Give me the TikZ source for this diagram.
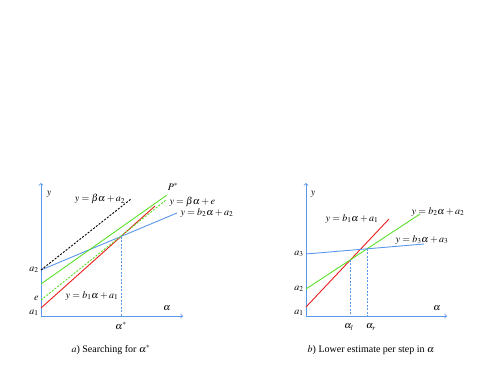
\documentclass[tikz,border=0pt]{standalone}
\usepackage{mathptmx}
\usepackage{fontspec}
\setmainfont{Liberation Serif}
\usetikzlibrary{intersections}
\definecolor{lineblue}{RGB}{90,150,235}
\definecolor{linegreen}{RGB}{90,225,40}
\definecolor{linered}{RGB}{235,30,30}
\tikzset{
  axis/.style={lineblue,->,line width=0.8pt},
  guide/.style={lineblue,dash pattern=on 2pt off 1.5pt,line width=0.6pt},
  curve/.style={line width=0.9pt},
}
\begin{document}
\begin{tikzpicture}[x=1pt,y=1pt,font=\fontsize{10}{12}\selectfont]
\useasboundingbox (0,0) rectangle (500,375);

% a) searching for alpha*
\coordinate (O1) at (41,59);
\draw[axis] (O1) -- (41,192);
\draw[axis] (O1) -- (183,59);
\draw[curve,linered,name path=redA] (41,67) -- (155,169);
\draw[curve,lineblue,name path=blueA] (41,105) -- (177,162);
\draw[curve,linegreen] (41,91) -- (167,180);
\draw[curve,linegreen,dash pattern=on 2pt off 1.5pt] (41,75) -- (166,175);
\draw[curve,black,dash pattern=on 2pt off 1.5pt] (41,105) -- (131,176);
\path[name intersections={of=redA and blueA,by=PA}];
\draw[guide] (PA) -- (PA |- O1);
\node (yA) at (49,181) {$y$};
\node (alA) at (167,67) {$\alpha$};
\node (astA) at (121,49) {$\alpha^{*}$};
\node[left] (a2A) at (42,105) {$a_2$};
\node[left] (eA) at (42,77) {$e$};
\node[left] (a1A) at (42,62) {$a_1$};
\node (PstA) at (173,188) {$P^{*}$};
\node (betaA) at (100,176) {$y=\beta\alpha+a_2$};
\node[right] (betaeA) at (166,173) {$y=\beta\alpha+e$};
\node[right] (b2A) at (177,162) {$y=b_2\alpha+a_2$};
\node (b1A) at (92,79) {$y=b_1\alpha+a_1$};
\node (capA) at (111,25) {$a$) Searching for $\alpha^{*}$};

% b) lower estimate per step
\coordinate (O2) at (306,59);
\draw[axis] (O2) -- (306,192);
\draw[axis] (O2) -- (447,59);
\draw[curve,linered,name path=redB] (306,68) -- (389,156);
\draw[curve,linegreen,name path=greenB] (306,86) -- (420,161);
\draw[curve,lineblue,name path=blueB] (306,121) -- (424,131);
\path[name intersections={of=redB and greenB,by=LB}];
\path[name intersections={of=greenB and blueB,by=RB}];
\draw[guide] (LB) -- (LB |- O2);
\draw[guide] (RB) -- (RB |- O2);
\node (yB) at (313,181) {$y$};
\node (alB) at (437,67) {$\alpha$};
\node[inner sep=1pt] (allB) at (349,48) {$\alpha_l$};
\node[inner sep=1pt] (alrB) at (371,48) {$\alpha_r$};
\node[left] (a3B) at (307,121) {$a_3$};
\node[left] (a2B) at (307,86) {$a_2$};
\node[left] (a1B) at (307,62) {$a_1$};
\node (b1B) at (352,156) {$y=b_1\alpha+a_1$};
\node (b2B) at (438,163) {$y=b_2\alpha+a_2$};
\node (b3B) at (422,135) {$y=b_3\alpha+a_3$};
\node (capB) at (371,25) {$b$) Lower estimate per step in $\alpha$};
\end{tikzpicture}
\end{document}
